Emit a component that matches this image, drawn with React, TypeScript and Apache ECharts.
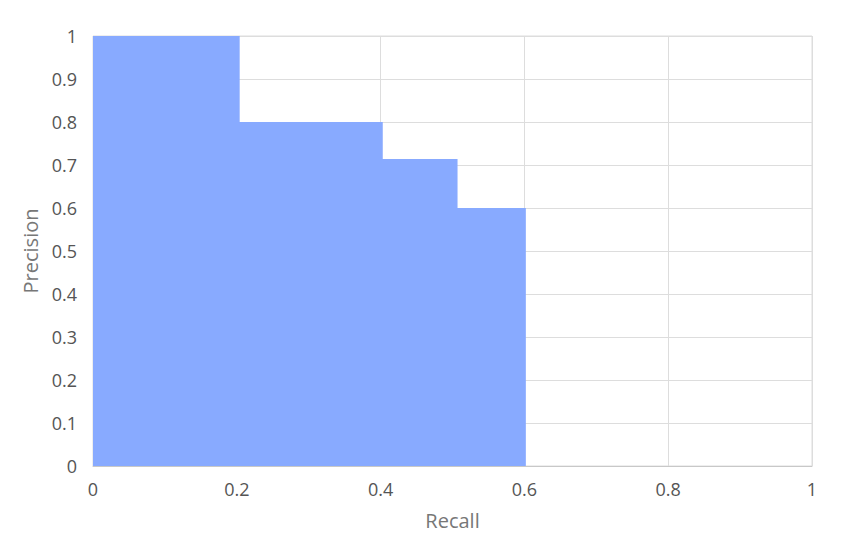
import React, { useEffect, useRef } from "react";
import * as echarts from "echarts";

const recall = [0, 0.204, 0.403, 0.507, 0.602];
const precision = [1, 0.8, 0.714, 0.6, 0];
const xTicks = [0, 0.2, 0.4, 0.6, 0.8, 1];
const yTicks = [0, 0.1, 0.2, 0.3, 0.4, 0.5, 0.6, 0.7, 0.8, 0.9, 1];

export default function App() {
  const ref = useRef<HTMLDivElement>(null);
  useEffect(() => {
    if (!ref.current) return;
    const chart = echarts.init(ref.current, undefined, { renderer: "svg" });
    const font = "'Open Sans', sans-serif";
    chart.setOption({
      animation: false,
      grid: { left: 85, right: 43, top: 28, bottom: 73, show: true, borderColor: "#dddddd", borderWidth: 1 },
      xAxis: {
        type: "value",
        min: 0,
        max: 1,
        interval: 0.2,
        name: "Recall",
        nameLocation: "middle",
        nameGap: 44,
        nameTextStyle: { color: "#777777", fontSize: 20, fontFamily: font },
        axisLine: { show: true, lineStyle: { color: "#c8c8c8" } },
        axisTick: { show: false },
        axisLabel: {
          color: "#555555",
          fontSize: 18,
          fontFamily: font,
          margin: 14,
          formatter: (v: number) => {
            const r = Math.round(v * 10) / 10;
            return xTicks.includes(r) ? String(r) : "";
          },
        },
        splitLine: { show: true, lineStyle: { color: "#dddddd" } },
      },
      yAxis: {
        type: "value",
        min: 0,
        max: 1,
        interval: 0.1,
        name: "Precision",
        nameLocation: "middle",
        nameGap: 43,
        nameTextStyle: { color: "#777777", fontSize: 20, fontFamily: font },
        axisLine: { show: false },
        axisTick: { show: false },
        axisLabel: {
          color: "#555555",
          fontSize: 18,
          fontFamily: font,
          margin: 16,
          formatter: (v: number) => {
            const r = Math.round(v * 10) / 10;
            return yTicks.includes(r) ? String(r) : "";
          },
        },
        splitLine: { show: true, lineStyle: { color: "#dddddd" } },
      },
      series: [
        {
          type: "line",
          step: "end",
          data: recall.map((r, i) => [r, precision[i]]),
          showSymbol: false,
          lineStyle: { width: 0, color: "#88aaff" },
          itemStyle: { color: "#88aaff" },
          areaStyle: { color: "#88aaff", opacity: 1 },
          z: 3,
        },
      ],
    });
    return () => chart.dispose();
  }, []);
  return <div ref={ref} style={{ width: 847, height: 531 }} />;
}
